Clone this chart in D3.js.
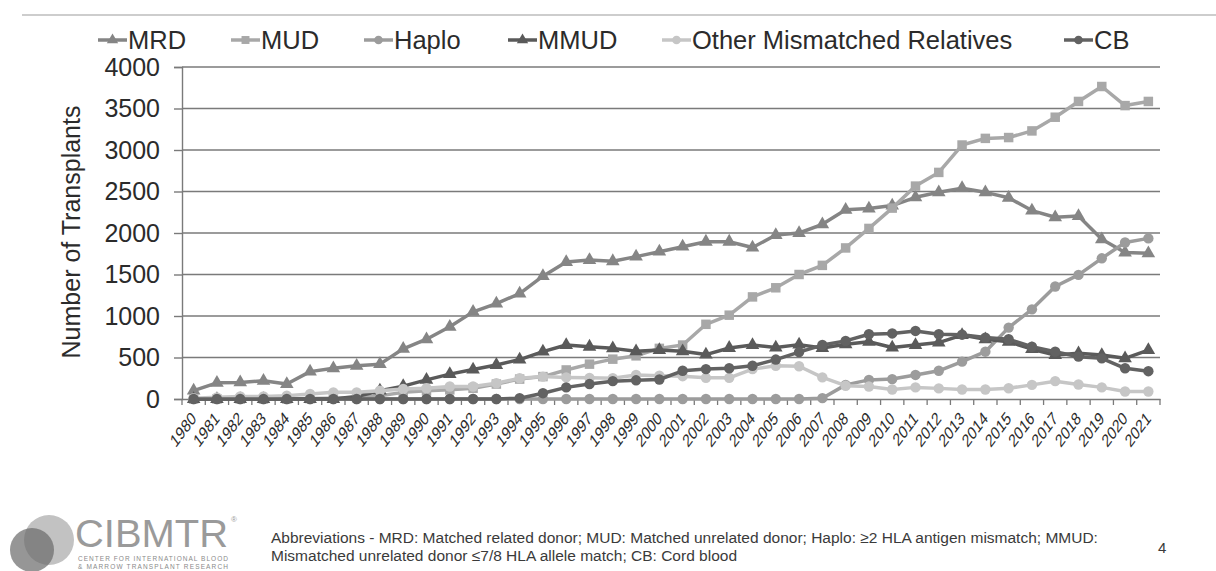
<!DOCTYPE html>
<html>
<head>
<meta charset="utf-8">
<script src="https://cdn.jsdelivr.net/npm/d3@7"></script>
<style>
  body { margin: 0; background: #fff; }
  svg { display: block; font-family: "Liberation Sans", Arial, sans-serif; }
</style>
</head>
<body>
<svg id="chart" width="1216" height="571"></svg>
<script>
// categories
const years = ["1980","1981","1982","1983","1984","1985","1986","1987","1988","1989",
  "1990","1991","1992","1993","1994","1995","1996","1997","1998","1999",
  "2000","2001","2002","2003","2004","2005","2006","2007","2008","2009",
  "2010","2011","2012","2013","2014","2015","2016","2017","2018","2019","2020","2021"];

// series values
const mrd = [100,195,200,220,180,330,370,400,420,605,720,870,1050,1150,1270,1480,1650,1675,1660,1715,
  1775,1835,1895,1895,1825,1975,2000,2105,2280,2295,2330,2430,2490,2540,2490,2425,2270,2190,2205,1925,1765,1755];
const mud = [0,0,0,0,0,5,10,15,40,80,100,110,130,180,240,270,350,420,480,520,
  610,650,900,1010,1230,1340,1500,1610,1820,2055,2300,2565,2730,3060,3140,3150,3230,3395,3585,3765,3535,3585];
const haplo = [0,0,0,0,0,0,0,0,0,0,0,0,0,0,0,0,0,0,0,0,
  0,0,0,0,0,0,0,10,170,230,240,290,340,450,570,860,1080,1355,1495,1695,1885,1935];
const mmud = [0,0,0,0,0,0,0,30,100,155,230,300,355,410,475,570,650,630,610,575,
  590,575,535,615,650,620,655,615,660,690,620,650,680,770,720,690,600,530,550,530,490,590];
const other = [10,20,30,30,40,60,80,80,100,120,130,150,150,190,250,270,260,255,250,290,
  280,275,255,255,360,400,395,260,160,150,115,140,128,115,115,130,170,215,175,140,90,90];
const cb = [0,0,0,0,0,0,0,0,0,0,0,0,0,0,10,70,140,180,215,225,
  235,340,360,370,400,475,565,650,700,780,790,820,780,775,740,720,630,570,510,490,370,335];

const yTicks = [0,500,1000,1500,2000,2500,3000,3500,4000];

const series = [
  { name: "MRD", values: mrd, color: "#858585", symbol: d3.symbolTriangle, size: 80 },
  { name: "MUD", values: mud, color: "#a8a8a8", symbol: d3.symbolSquare, size: 90 },
  { name: "Haplo", values: haplo, color: "#9c9c9c", symbol: d3.symbolCircle, size: 85 },
  { name: "MMUD", values: mmud, color: "#5a5a5a", symbol: d3.symbolTriangle, size: 80 },
  { name: "Other Mismatched Relatives", values: other, color: "#c6c6c6", symbol: d3.symbolCircle, size: 85 },
  { name: "CB", values: cb, color: "#626262", symbol: d3.symbolCircle, size: 85 }
];

const svg = d3.select("#chart");

// top rule of the slide
svg.append("line")
  .attr("x1", 22).attr("x2", 1216).attr("y1", 15).attr("y2", 15)
  .attr("stroke", "#bdbdbd").attr("stroke-width", 1.5);

const x = d3.scaleBand().domain(years).range([182, 1160]);
const y = d3.scaleLinear().domain([0, 4000]).range([399, 67]);
const cx = d => x(d) + x.bandwidth() / 2;

// gridlines
svg.append("g")
  .selectAll("line")
  .data(yTicks.slice(1))
  .join("line")
  .attr("x1", 182).attr("x2", 1160)
  .attr("y1", d => y(d)).attr("y2", d => y(d))
  .attr("stroke", "#7a7a7a").attr("stroke-width", 1.4);

// y axis
const yAxis = svg.append("g")
  .attr("transform", "translate(182,0)")
  .call(d3.axisLeft(y).tickValues(yTicks).tickFormat(d3.format("d")).tickSize(8).tickPadding(14));
yAxis.selectAll("path, line").attr("stroke", "#7a7a7a").attr("stroke-width", 1.4);
yAxis.selectAll("text").attr("font-size", 25).attr("fill", "#2b2b2b")
  .attr("font-family", "'Liberation Sans', Arial, sans-serif");

svg.append("text")
  .attr("transform", "translate(80,232) rotate(-90)")
  .attr("text-anchor", "middle")
  .attr("font-size", 25).attr("fill", "#2b2b2b")
  .text("Number of Transplants");

// x axis
const xAxis = svg.append("g")
  .attr("transform", "translate(0,399)")
  .call(d3.axisBottom(x).tickSize(0).tickSizeOuter(0));
xAxis.select("path").attr("stroke", "#7a7a7a").attr("stroke-width", 1.4);
xAxis.selectAll("text")
  .attr("font-size", 13.5).attr("fill", "#2b2b2b")
  .attr("font-family", "'Liberation Sans', Arial, sans-serif")
  .attr("x", 0).attr("y", 0).attr("dy", "0.35em")
  .attr("text-anchor", "end")
  .attr("transform", "translate(0,16) scale(1,1.35) rotate(-45)");

// x tick marks at category boundaries
svg.append("g")
  .selectAll("line")
  .data(years.concat(["end"]))
  .join("line")
  .attr("x1", d => d === "end" ? 1160 : x(d))
  .attr("x2", d => d === "end" ? 1160 : x(d))
  .attr("y1", 399).attr("y2", 405)
  .attr("stroke", "#7a7a7a").attr("stroke-width", 1.3);

// series
const line = d3.line().x((d, i) => cx(years[i])).y(d => y(d));
series.forEach(s => {
  const g = svg.append("g");
  g.append("path")
    .datum(s.values)
    .attr("fill", "none")
    .attr("stroke", s.color)
    .attr("stroke-width", 3.5)
    .attr("stroke-linejoin", "round")
    .attr("d", line);
  g.selectAll("path.m")
    .data(s.values)
    .join("path")
    .attr("class", "m")
    .attr("transform", (d, i) => `translate(${cx(years[i])},${y(d)})`)
    .attr("d", d3.symbol().type(s.symbol).size(s.size))
    .attr("fill", s.color);
});

// legend
const legendX = [98, 231, 364, 508, 662, 1064];
const legend = svg.append("g");
series.forEach((s, i) => {
  const g = legend.append("g").attr("transform", `translate(${legendX[i]},40)`);
  g.append("line").attr("x1", 0).attr("x2", 29).attr("y1", 0).attr("y2", 0)
    .attr("stroke", s.color).attr("stroke-width", 3.5);
  g.append("path").attr("transform", "translate(14.5,0)")
    .attr("d", d3.symbol().type(s.symbol).size(s.size * 0.7))
    .attr("fill", s.color);
  g.append("text").attr("x", 30).attr("y", 9)
    .attr("font-size", 25.5).attr("fill", "#2b2b2b")
    .text(s.name);
});

// footer: logo
const logo = svg.append("g");
logo.append("circle").attr("cx", 49).attr("cy", 540).attr("r", 25).attr("fill", "#c2c2c2");
logo.append("circle").attr("cx", 32).attr("cy", 550).attr("r", 22).attr("fill", "#6a6a6a").attr("opacity", 0.7);
logo.append("text").attr("x", 75).attr("y", 547)
  .attr("font-size", 38).attr("fill", "#9a9a9a").attr("textLength", 153)
  .attr("lengthAdjust", "spacingAndGlyphs").text("CIBMTR");
logo.append("text").attr("x", 231).attr("y", 522).attr("font-size", 8).attr("fill", "#9a9a9a").text("®");
logo.append("text").attr("x", 78).attr("y", 561).attr("font-size", 6.5).attr("fill", "#8a8a8a")
  .attr("textLength", 150).text("CENTER FOR INTERNATIONAL BLOOD");
logo.append("text").attr("x", 78).attr("y", 569).attr("font-size", 6.5).attr("fill", "#8a8a8a")
  .attr("textLength", 150).text("& MARROW TRANSPLANT RESEARCH");

// footer: abbreviations
svg.append("text").attr("x", 271).attr("y", 543).attr("font-size", 15.5).attr("fill", "#3a3a3a")
  .text("Abbreviations - MRD: Matched related donor; MUD: Matched unrelated donor; Haplo: \u22652 HLA antigen mismatch; MMUD:");
svg.append("text").attr("x", 271).attr("y", 561).attr("font-size", 15.5).attr("fill", "#3a3a3a")
  .text("Mismatched unrelated donor \u22647/8 HLA allele match; CB: Cord blood");
svg.append("text").attr("x", 1158).attr("y", 553).attr("font-size", 15).attr("fill", "#3a3a3a").text("4");
</script>
</body>
</html>
